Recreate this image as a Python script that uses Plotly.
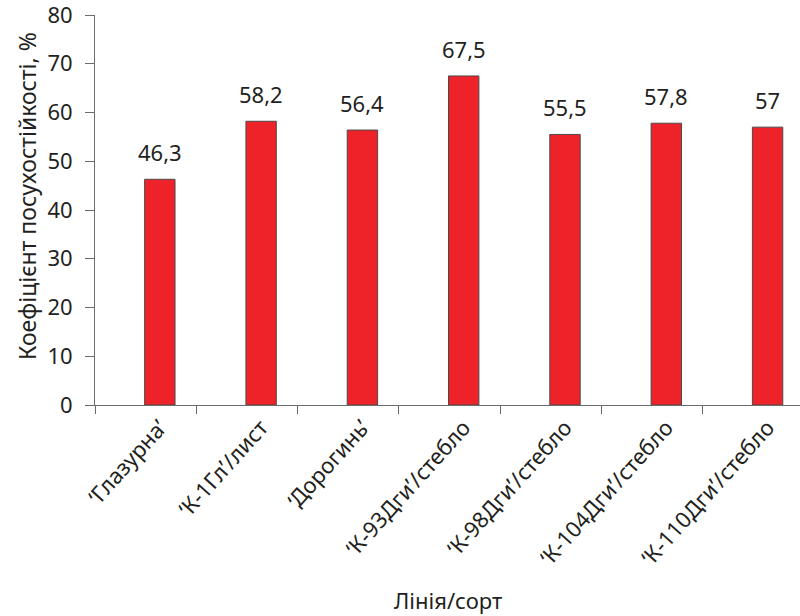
import plotly.graph_objects as go

categories = ["‘Глазурна’", "‘К-1Гл’/лист", "‘Дорогинь’", "‘К-93Дги’/стебло",
              "‘К-98Дги’/стебло", "‘К-104Дги’/стебло", "‘К-110Дги’/стебло"]
values = [46.3, 58.2, 56.4, 67.5, 55.5, 57.8, 57.0]
value_labels = ["46,3", "58,2", "56,4", "67,5", "55,5", "57,8", "57"]
y_ticks = [0, 10, 20, 30, 40, 50, 60, 70, 80]

n = len(categories)
bar_offset = 0.64
bar_x = [i + bar_offset for i in range(n)]
boundaries = list(range(n + 1))

FONT = "Noto Sans"
TXT = "#231f20"
AX = "#6b6b6b"

fig = go.Figure()
fig.add_trace(go.Bar(
    x=bar_x, y=values, width=0.3,
    marker=dict(color="#ee2229", line=dict(color="#4a4a4a", width=1)),
    xaxis="x", yaxis="y", showlegend=False, hoverinfo="skip",
))
fig.add_trace(go.Scatter(x=[0], y=[0], xaxis="x2", yaxis="y", mode="markers",
                         marker=dict(opacity=0), showlegend=False, hoverinfo="skip"))

for xv, v, lab in zip(bar_x, values, value_labels):
    fig.add_annotation(x=xv, y=v, text=lab, showarrow=False, yanchor="bottom",
                       yshift=10, font=dict(family=FONT, size=22, color=TXT))

xr = [0, 6.96]
fig.update_layout(
    width=800, height=616,
    margin=dict(l=95, r=0, t=15, b=211),
    paper_bgcolor="white", plot_bgcolor="white",
    font=dict(family=FONT, size=22, color=TXT),
    xaxis=dict(range=xr, tickmode="array", tickvals=bar_x, ticktext=categories,
               tickangle=-48, ticks="", showline=True, linecolor=AX,
               linewidth=1, showgrid=False, zeroline=False,
               ticklabeloverflow="allow",
               tickfont=dict(family=FONT, size=22, color=TXT)),
    xaxis2=dict(range=xr, overlaying="x", side="bottom", tickmode="array",
                tickvals=boundaries, ticktext=[""] * len(boundaries),
                ticks="outside", ticklen=8, tickcolor=AX, showline=False,
                showgrid=False, zeroline=False, showticklabels=False),
    yaxis=dict(range=[0, 80], tickmode="array", tickvals=y_ticks,
               ticks="outside", ticklen=9, tickcolor=AX,
               showline=True, linecolor=AX, linewidth=1,
               showgrid=False, zeroline=False,
               ticklabeloverflow="allow",
               tickfont=dict(family=FONT, size=22, color=TXT),
               ticklabelstandoff=8),
)
fig.add_annotation(text="Коефіцієнт посухостійкості, %", xref="paper", yref="paper",
                   x=0, y=0.536, xanchor="center", yanchor="middle", xshift=-68,
                   textangle=-90, showarrow=False,
                   font=dict(family=FONT, size=23, color=TXT))
fig.add_annotation(text="Лінія/сорт", xref="paper", yref="paper",
                   x=0.5, y=0, xanchor="center", yanchor="middle", yshift=-195,
                   showarrow=False, font=dict(family=FONT, size=22, color=TXT))

fig.write_html("out.html")
